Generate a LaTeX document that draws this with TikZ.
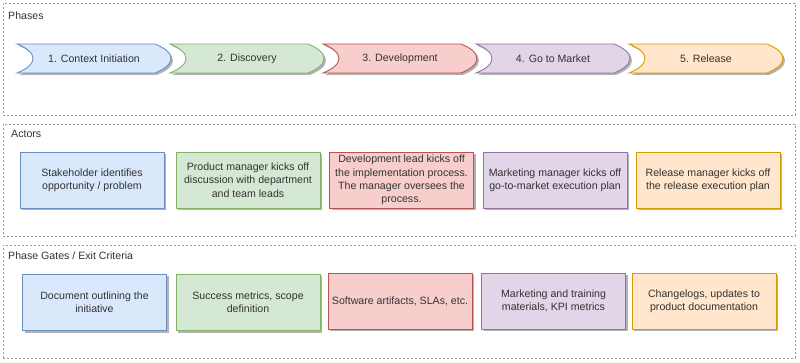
\documentclass[tikz,border=0pt]{standalone}
\usepackage{fontspec}
\setmainfont{Liberation Sans}
\usetikzlibrary{shadows}
\definecolor{ink}{HTML}{333333}
\definecolor{ctxfill}{HTML}{DAE8FC}\definecolor{ctxline}{HTML}{6C8EBF}
\definecolor{discfill}{HTML}{D5E8D4}\definecolor{discline}{HTML}{82B366}
\definecolor{devfill}{HTML}{F8CECC}\definecolor{devline}{HTML}{B85450}
\definecolor{gtmfill}{HTML}{E1D5E7}\definecolor{gtmline}{HTML}{9673A6}
\definecolor{relfill}{HTML}{FFE6CC}\definecolor{relline}{HTML}{D79B00}
\tikzset{
  group/.style={draw=black!40, dash pattern=on 2pt off 2pt, line width=0.7pt, minimum width=792pt, anchor=north west, inner sep=0pt},
  title/.style={anchor=west, inner sep=0pt, text=ink},
  shade/.style={drop shadow={shadow xshift=2pt, shadow yshift=-2pt, opacity=0.3, fill=black}},
  phase/.style={line width=0.9pt, shade},
  card/.style={draw, line width=0.9pt, minimum width=144pt, minimum height=56pt, align=center, inner sep=1pt, text=ink, shade},
  ctx/.style={fill=ctxfill, draw=ctxline},
  disc/.style={fill=discfill, draw=discline},
  dev/.style={fill=devfill, draw=devline},
  gtm/.style={fill=gtmfill, draw=gtmline},
  rel/.style={fill=relfill, draw=relline}
}

\begin{document}
\begin{tikzpicture}[x=1pt, y=-1pt, font=\fontsize{10.6pt}{13.3pt}\selectfont]
  \useasboundingbox (0,0) rectangle (800,363);

  % phases
  \node[group, minimum height=112pt] (phases) at (3,3) {};
  \node[title] (phaseslbl) at (8,16) {Phases};
  \draw[phase, ctx, shift={(17,0)}] (0,44) -- (138,44) .. controls (148,48) and (154,53) .. (154,58.5) .. controls (154,64) and (148,69) .. (138,73) -- (0,73) .. controls (10,69) and (16,64) .. (16,58.5) .. controls (16,53) and (10,48) .. (0,44) -- cycle;
  \draw[phase, disc, shift={(170,0)}] (0,44) -- (138,44) .. controls (148,48) and (154,53) .. (154,58.5) .. controls (154,64) and (148,69) .. (138,73) -- (0,73) .. controls (10,69) and (16,64) .. (16,58.5) .. controls (16,53) and (10,48) .. (0,44) -- cycle;
  \draw[phase, dev, shift={(323,0)}] (0,44) -- (138,44) .. controls (148,48) and (154,53) .. (154,58.5) .. controls (154,64) and (148,69) .. (138,73) -- (0,73) .. controls (10,69) and (16,64) .. (16,58.5) .. controls (16,53) and (10,48) .. (0,44) -- cycle;
  \draw[phase, gtm, shift={(476,0)}] (0,44) -- (138,44) .. controls (148,48) and (154,53) .. (154,58.5) .. controls (154,64) and (148,69) .. (138,73) -- (0,73) .. controls (10,69) and (16,64) .. (16,58.5) .. controls (16,53) and (10,48) .. (0,44) -- cycle;
  \draw[phase, rel, shift={(629,0)}] (0,44) -- (138,44) .. controls (148,48) and (154,53) .. (154,58.5) .. controls (154,64) and (148,69) .. (138,73) -- (0,73) .. controls (10,69) and (16,64) .. (16,58.5) .. controls (16,53) and (10,48) .. (0,44) -- cycle;
  \node[text=ink] (ph1) at (94,58.5) {1. Context Initiation};
  \node[text=ink] (ph2) at (247,58.5) {2. Discovery};
  \node[text=ink] (ph3) at (400,58.5) {3. Development};
  \node[text=ink] (ph4) at (553,58.5) {4. Go to Market};
  \node[text=ink] (ph5) at (706,58.5) {5. Release};

  % actors
  \node[group, minimum height=112pt] (actors) at (3,124) {};
  \node[title] (actorslbl) at (11,134) {Actors};
  \node[card, ctx] (act1) at (92,180) {Stakeholder identifies\\opportunity / problem};
  \node[card, disc] (act2) at (248,180) {Product manager kicks off\\discussion with department\\and team leads};
  \node[card, dev] (act3) at (401.5,180) {Development lead kicks off\\the implementation process.\\The manager oversees the\\process.};
  \node[card, gtm] (act4) at (555,180) {Marketing manager kicks off\\go-to-market execution plan};
  \node[card, rel] (act5) at (708,180) {Release manager kicks off\\the release execution plan};

  % phase gates
  \node[group, minimum height=113pt] (gates) at (3,245) {};
  \node[title] (gateslbl) at (8,256) {Phase Gates / Exit Criteria};
  \node[card, ctx] (gate1) at (94.5,302.5) {Document outlining the\\initiative};
  \node[card, disc] (gate2) at (248,302.5) {Success metrics, scope\\definition};
  \node[card, dev] (gate3) at (400,301) {Software artifacts, SLAs, etc.};
  \node[card, gtm] (gate4) at (553.5,301) {Marketing and training\\materials, KPI metrics};
  \node[card, rel] (gate5) at (704,301) {Changelogs, updates to\\product documentation};
\end{tikzpicture}
\end{document}
